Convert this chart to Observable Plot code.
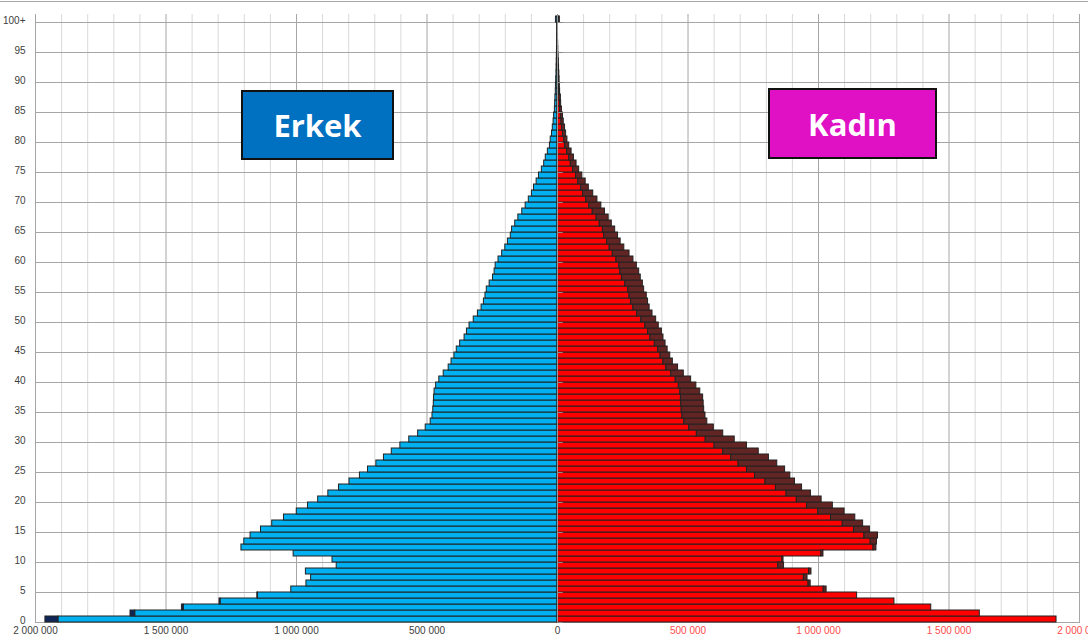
<!DOCTYPE html>
<html><head><meta charset="utf-8">
<script src="https://cdn.jsdelivr.net/npm/d3@7"></script>
<script src="https://cdn.jsdelivr.net/npm/@observablehq/plot@0.6"></script>
<style>
body{margin:0;background:#fff;}
#wrap{position:relative;width:1088px;height:642px;overflow:hidden;background:#fff;}
#chart{position:absolute;left:0;top:1px;border-top:1px solid #a6a6a6;width:1088px;}
.box{position:absolute;box-sizing:border-box;border:2px solid #111;color:#fff;font-family:"Open Sans",sans-serif;font-weight:700;font-size:31px;display:flex;align-items:center;justify-content:center;}
</style></head>
<body><div id="wrap"><div id="chart"></div>
<div class="box" style="left:241px;top:90px;width:153px;height:70px;background:#0070C0">Erkek</div>
<div class="box" style="left:768px;top:88px;width:169px;height:71px;background:#E010C4">Kadın</div>
</div>
<script>
const ages = d3.range(0, 101);
const male = [
1962000,1636000,1439000,1295000,1150000,1020000,962000,944000,964000,846000,
862000,1011000,1211000,1200000,1176000,1136000,1093000,1048000,999000,956000,
917000,878000,837000,797000,757000,726000,694000,665000,635000,602000,
568000,534000,505000,486000,479000,476000,474000,473000,471000,465000,
453000,436000,417000,406000,395000,386000,373000,356000,347000,337000,
321000,305000,291000,282000,276000,271000,260000,247000,241000,237000,
226000,212000,200000,190000,179000,174000,162000,150000,135000,122000,
110000,98000,90000,80000,71000,60000,51000,45000,37000,29000,
26000,21000,18000,15000,13000,10000,9000,8000,6500,6000,
5000,4000,3500,3000,2500,2000,1500,1200,1000,800,
6000];
const female = [
1912000,1618000,1432000,1291000,1148000,1031000,970000,958000,973000,868000,
866000,1019000,1222000,1224000,1228000,1197000,1171000,1141000,1100000,1055000,
1012000,971000,937000,910000,892000,872000,842000,810000,771000,726000,
679000,635000,599000,574000,567000,562000,560000,558000,547000,532000,
512000,484000,462000,442000,432000,422000,414000,406000,400000,388000,
378000,364000,353000,347000,342000,332000,327000,319000,313000,304000,
291000,276000,256000,242000,232000,221000,208000,196000,182000,168000,
153000,137000,120000,108000,95000,83000,73000,63000,54000,45000,
38000,33000,29000,24000,21000,17000,14000,13000,10000,9000,
8000,7000,6000,5000,4000,3000,2500,2000,1500,1200,
9000];
const xTicks = [-2000000,-1500000,-1000000,-500000,0,500000,1000000,1500000,2000000];
const xMinor = d3.range(-2000000, 2000001, 100000).filter(v => v % 500000 !== 0);
const yTickAges = d3.range(0, 101, 5);

const rows = ages.map((a, i) => ({age: a, m: male[i], f: female[i], c: Math.min(male[i], female[i])}));
const fmt = v => d3.format(",")(Math.abs(v)).replace(/,/g, " ");
const H = 640, MT = 12, MB = 19;
const half = (H - MT - MB) / ages.length / 2;

const plot = Plot.plot({
  width: 1088, height: H,
  marginLeft: 35, marginRight: 9, marginTop: MT, marginBottom: MB,
  x: {domain: [-2000000, 2000000], axis: null},
  y: {type: "band", domain: ages.slice().reverse(), padding: 0, axis: null},
  style: {fontFamily: "'Liberation Sans', Arial, sans-serif", fontSize: "10px", background: "#fff", overflow: "visible"},
  marks: [
    Plot.ruleX(xMinor, {stroke: "#d9d9d9"}),
    Plot.ruleX(xTicks, {stroke: "#a6a6a6"}),
    Plot.ruleY(yTickAges, {y: d => d, dy: half, stroke: "#a6a6a6"}),
    Plot.barX(rows, {y: "age", x1: () => 0, x2: d => -d.c, fill: "#00B0F0", stroke: "#222", strokeWidth: 1}),
    Plot.barX(rows.filter(d => d.m > d.f), {y: "age", x1: d => -d.c, x2: d => -d.m, fill: "#0F2557", stroke: "#222", strokeWidth: 1}),
    Plot.barX(rows, {y: "age", x1: () => 0, x2: d => d.c, fill: "#FF0000", stroke: "#222", strokeWidth: 1}),
    Plot.barX(rows.filter(d => d.f > d.m), {y: "age", x1: d => d.c, x2: d => d.f, fill: "#632523", stroke: "#222", strokeWidth: 1}),
    Plot.ruleX([0], {stroke: "#9a9a9a"}),
    Plot.ruleY(yTickAges, {y: d => d, dy: half, x1: () => 0, x2: () => 22000, stroke: "#8a8a8a"}),
    Plot.text(yTickAges, {y: d => d, frameAnchor: "left", dx: -10, dy: 1.5, textAnchor: "end",
      text: d => d === 100 ? "100+" : String(d), fill: "#404040"}),
    Plot.text(xTicks.filter(v => v <= 0), {x: d => d, frameAnchor: "bottom", dy: 10, text: fmt, fill: "#404040"}),
    Plot.text(xTicks.filter(v => v > 0), {x: d => d, frameAnchor: "bottom", dy: 10, text: fmt, fill: "#FF4B4B"})
  ]
});
document.getElementById("chart").appendChild(plot);
</script>
</body></html>
